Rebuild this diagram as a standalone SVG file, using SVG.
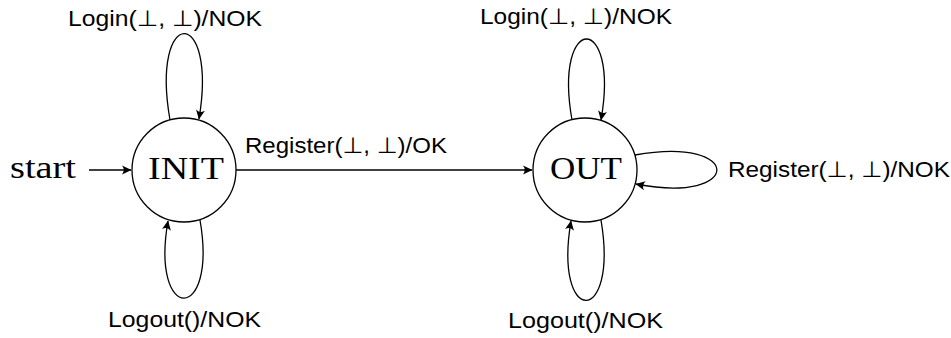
<svg xmlns="http://www.w3.org/2000/svg" width="951" height="338" viewBox="0 0 951 338">
  <style>
    .state { fill: #fff; stroke: #000; stroke-width: 1.3; }
    .name { font-family: "Liberation Serif", "DejaVu Serif", serif; font-size: 31px; fill: #000; text-anchor: middle; }
    .lbl { font-family: "Liberation Sans", "DejaVu Sans", sans-serif; font-size: 22px; fill: #000; text-anchor: middle; }
    .edge { fill: none; stroke: #000; stroke-width: 1.3; marker-end: url(#arrow); }
  </style>
  <defs>
    <marker id="arrow" viewBox="-10 -5 11 10" refX="0" refY="0" markerWidth="11" markerHeight="10" markerUnits="userSpaceOnUse" orient="auto">
      <path d="M0.5,0 L-9,-4.5 Q-5.5,0 -9,4.5 Z" fill="#000"/>
    </marker>
  </defs>

  <g id="start">
    <text class="name" x="43" y="178" textLength="66" lengthAdjust="spacingAndGlyphs">start</text>
  </g>

  <g id="INIT">
    <circle class="state" cx="184" cy="170" r="52"/>
    <text class="name" x="186" y="179" textLength="76" lengthAdjust="spacingAndGlyphs">INIT</text>
  </g>

  <g id="OUT">
    <circle class="state" cx="585" cy="170" r="52"/>
    <text class="name" x="586" y="179" textLength="72" lengthAdjust="spacingAndGlyphs">OUT</text>
  </g>

  <g id="connectors">
    <path class="edge" d="M89,170 L131,170"/>
    <path class="edge" d="M236,170 L532,170"/>
    <!-- INIT self loops -->
    <path class="edge" d="M170,120 C150,5 218,5 199,119"/>
    <path class="edge" d="M200,220 C218,324 150,324 168,221"/>
    <!-- OUT self loops -->
    <path class="edge" d="M572,120 C553,12 620,12 601,120"/>
    <path class="edge" d="M601,220 C619,327 553,327 571,221"/>
    <path class="edge" d="M635,155 C744,135 744,205 636,184"/>
  </g>

  <g id="labels">
    <text class="lbl" x="165" y="26" textLength="194" lengthAdjust="spacingAndGlyphs">Login(⊥, ⊥)/NOK</text>
    <text class="lbl" x="184.5" y="327" textLength="153" lengthAdjust="spacingAndGlyphs">Logout()/NOK</text>
    <text class="lbl" x="346" y="153" textLength="202" lengthAdjust="spacingAndGlyphs">Register(⊥, ⊥)/OK</text>
    <text class="lbl" x="576" y="24" textLength="192" lengthAdjust="spacingAndGlyphs">Login(⊥, ⊥)/NOK</text>
    <text class="lbl" x="585.5" y="328" textLength="155" lengthAdjust="spacingAndGlyphs">Logout()/NOK</text>
    <text class="lbl" x="839" y="177" textLength="222" lengthAdjust="spacingAndGlyphs">Register(⊥, ⊥)/NOK</text>
  </g>
</svg>
